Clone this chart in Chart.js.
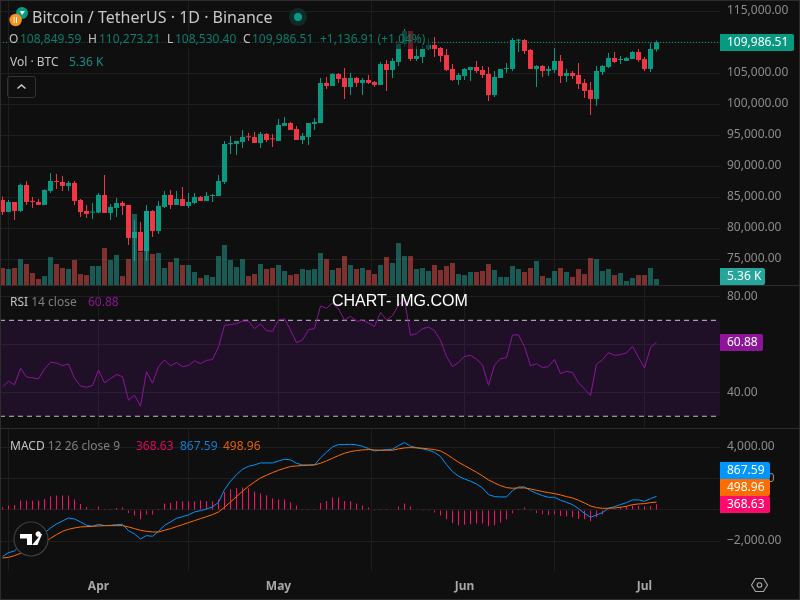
<!DOCTYPE html>
<html>
<head>
<meta charset="utf-8">
<title>BTCUSDT</title>
<script src="https://cdn.jsdelivr.net/npm/chart.js@4"></script>
<style>
html, body { margin: 0; padding: 0; background: #0f0f0f; }
#wrap { position: relative; width: 800px; height: 600px; overflow: hidden; background: #0f0f0f; font-family: "Noto Sans", sans-serif; font-size: 12px; color: #c4c4c4; }
#wrap canvas { position: absolute; left: 0; }
#c1 { top: 0; }
#c2 { top: 286px; }
#c3 { top: 429px; }
.t { position: absolute; white-space: nowrap; line-height: 16px; }
.dim { color: #7f7f7f; }
.ohlc { color: #0a7f6c; }
.line { position: absolute; left: 0; width: 800px; height: 1px; background: #2c2c2c; }
</style>
</head>
<body>
<div id="wrap">
  <canvas id="c1" width="800" height="285"></canvas>
  <canvas id="c2" width="800" height="142"></canvas>
  <canvas id="c3" width="800" height="171"></canvas>

  <div class="line" style="top:285px"></div>
  <div class="line" style="top:428px"></div>
  <div style="position:absolute;left:0;top:0;width:798px;height:598px;border:1px solid #2c2c2c"></div>

  <svg style="position:absolute;left:8px;top:6px" width="24" height="24">
    <circle cx="14" cy="7" r="6" fill="#089981"/>
    <circle cx="7.6" cy="14" r="6.2" fill="#f7931a"/>
    <rect x="5.6" y="11" width="1" height="6" fill="#fff"/><rect x="8" y="11" width="1" height="6" fill="#fff"/>
    <path d="M12 5h5l-3 4z" fill="#fff"/>
  </svg>
  <div class="t" style="left:32px;top:6px;font-size:16px;line-height:22px;color:#c8c8c8">Bitcoin / TetherUS · 1D · Binance</div>
  <svg style="position:absolute;left:288px;top:7px" width="20" height="20">
    <circle cx="10" cy="10" r="9" fill="#0f2b28"/><circle cx="10" cy="10" r="4" fill="#089981"/>
  </svg>

  <div style="position:absolute;left:9px;top:31px;width:421px;height:18px;background:rgba(15,15,15,.62)"></div>
  <div class="t" style="left:9px;top:31px">O</div>
  <div class="t ohlc" style="left:20px;top:31px">108,849.59</div>
  <div class="t" style="left:88px;top:31px">H</div>
  <div class="t ohlc" style="left:99px;top:31px">110,273.21</div>
  <div class="t" style="left:167px;top:31px">L</div>
  <div class="t ohlc" style="left:175px;top:31px">108,530.40</div>
  <div class="t" style="left:243px;top:31px">C</div>
  <div class="t ohlc" style="left:252px;top:31px">109,986.51</div>
  <div class="t ohlc" style="left:320px;top:31px">+1,136.91 (+1.04%)</div>

  <div class="t" style="left:10px;top:54px">Vol · BTC</div>
  <div class="t" style="left:69px;top:54px;color:#1f8a80">5.36 K</div>
  <div style="position:absolute;left:7px;top:76px;width:27px;height:20px;border:1px solid #333;border-radius:3px">
    <svg width="27" height="20"><path d="M9.5 11.5l4-3.5 4 3.5" fill="none" stroke="#d0d0d0" stroke-width="1.4"/></svg>
  </div>

  <div class="t" style="left:10px;top:294px">RSI <span class="dim">14 close</span></div>
  <div class="t" style="left:88px;top:294px;color:#8e1599">60.88</div>
  <div class="t" style="left:332px;top:292px;font-family:'Liberation Sans',sans-serif;font-size:16px;line-height:18px;color:#fff">CHART- IMG.COM</div>

  <div class="t" style="left:10px;top:438px">MACD <span class="dim">12 26 close 9</span></div>
  <div class="t" style="left:136px;top:438px;color:#e0055f">368.63</div>
  <div class="t" style="left:180px;top:438px;color:#0c7fd6">867.59</div>
  <div class="t" style="left:223px;top:438px;color:#e06000">498.96</div>

  <svg style="position:absolute;left:12px;top:520px" width="38" height="38">
    <circle cx="19" cy="19" r="17" fill="#0f0f0f" stroke="#3f3f3f" stroke-width="1.2"/>
    <path d="M8 14h12v11h-5v-6.500h-7z M23.500 14h0a2.700 2.700 0 1 1 0 .1z M29.200 14h0.900l-4.600 11h-5.400z" fill="#fff"/>
  </svg>
  <svg style="position:absolute;left:751px;top:577px" width="17" height="16">
    <path d="M4.500 1.500h8l4 6.500-4 6.500h-8l-4-6.500z" fill="none" stroke="#a8a8a8" stroke-width="1.1"/>
    <circle cx="8.500" cy="8" r="2.300" fill="none" stroke="#a8a8a8" stroke-width="1.1"/>
  </svg>
</div>

<script>
// OHLC, one entry per day starting 16 Mar
const opens = [84572,82637,84250,82798,86991,84411,84250,83766,86023,87583,
  87475,86830,87314,84572,82798,82529,82529,85378,82475,83282,
  84088,83766,78444,79411,76347,82798,79572,83443,85378,83766,
  84733,83604,84088,85056,84411,85217,85217,87475,93550,93604,
  93926,94733,94733,93765,95216,94410,94087,96507,96991,96023,
  94249,94733,96829,96991,103442,102958,104893,104248,102797,104248,
  103442,103926,103603,103119,106506,105538,106829,109732,111828,107312,
  107635,108925,109570,109086,107957,105700,103926,104571,105538,106022,
  105538,104893,101506,104248,105700,105700,110269,110377,108764,105700,
  106183,105377,105538,106990,104571,105054,104732,103442,102313,100861,
  105216,106022,107474,107151,106990,107312,108441,107312,105700,108849.59];
const highs = [85110,84572,84250,87206,87583,85056,84733,86292,88927,88765,
  88443,87636,87636,84733,83766,84088,85701,88604,83927,84895,
  84411,83766,81346,81024,83766,82959,84411,86023,86185,86023,
  86669,85701,85701,85217,85862,85540,88604,94087,94894,94087,
  95862,95378,95539,95539,95378,95216,97636,97958,97152,96507,
  95378,96991,97797,104248,104409,105054,105054,105861,105054,104409,
  104248,104732,103764,106829,107151,107474,110054,112150,111828,109409,
  109409,110699,110860,109248,108925,106506,105054,105861,106022,106990,
  106183,106022,105377,105700,106667,110699,110538,110538,108925,106345,
  106345,106183,109086,107957,105700,105377,106667,104087,103603,106183,
  106345,108280,108441,107796,107635,108603,108925,107635,109893,110273.21];
const lows = [82153,82637,81346,82637,83766,83282,83766,83766,85701,86346,
  86023,86023,83766,81830,81669,81508,82422,82475,81346,81830,
  82153,77315,74734,76347,74734,78605,79089,83282,83121,83766,
  83604,83282,83927,84411,84411,84250,85217,87152,91991,91830,
  92958,94087,93765,92958,93926,93120,94087,96507,95862,94249,
  93604,93442,95862,96991,102474,102958,103442,100861,101506,102797,
  101506,103280,102797,103119,102151,104248,106183,109302,106990,106990,
  106667,108764,107635,106829,105377,103764,103119,103926,103764,105054,
  104248,100539,101184,104248,105054,105377,108441,108119,105700,102797,
  104409,104571,105054,103442,103603,104087,102474,101022,98281,99732,
  104732,105861,106667,106506,106990,107312,106829,105377,105216,108530.40];
const closes = [82637,84250,82798,86991,84250,84250,83766,86185,87636,87475,
  86830,87314,84411,82637,82314,82637,85378,82475,83443,84088,
  83604,78444,79411,76347,82798,79572,83604,85378,83766,84733,
  83604,84250,85056,84411,85217,85378,87636,93604,93765,94087,
  94733,94680,93765,95216,94249,94356,96668,96991,95862,94249,
  94894,96991,97152,103442,102958,104893,104087,102797,104248,103442,
  103926,103442,103119,106506,105538,106990,109732,111828,107312,107796,
  108925,109570,108925,107796,105538,103926,104732,105700,106022,105377,
  104732,101506,104409,105700,105861,110377,110377,108603,105700,106183,
  105377,105700,106990,104571,105054,104571,103280,102151,100861,105377,
  106183,107474,106829,107312,107474,108441,107151,105700,108925,109986.51];

// volume in thousands of BTC
const volumes = [15.2,14.3,15.2,23.2,18.8,10.7,5.4,8.0,25.0,18.8,
  15.2,14.3,22.4,9.8,8.9,17.0,17.0,33.1,22.4,26.8,
  8.0,23.2,63.5,29.5,66.2,27.7,28.6,15.2,20.6,24.1,
  17.9,17.9,11.6,6.3,8.9,7.2,25.9,35.8,22.4,16.1,
  23.2,8.0,9.8,18.8,14.3,15.2,17.9,12.5,8.9,9.8,
  14.3,13.4,14.3,28.6,23.2,13.4,15.2,25.9,17.9,14.3,
  15.2,13.4,9.8,17.9,25.0,19.7,37.5,25.9,25.9,14.3,
  15.2,12.5,17.9,13.4,17.0,19.7,9.8,8.9,11.6,11.6,
  12.5,18.8,13.4,7.2,7.2,17.0,14.3,11.6,15.2,21.5,
  8.0,6.3,12.5,15.2,11.6,7.2,14.3,9.8,24.1,23.2,
  12.5,14.3,8.9,10.7,3.6,6.3,8.9,8.9,15.2,5.36];

const rsi = [42.2,44.6,43.1,50,46.4,46,45.6,49.7,52.5,52.2,
  51.1,51.8,45.8,42.6,42.1,42.8,49.2,43.9,45.7,47.4,
  46.5,36.7,38.8,34.2,48.6,43.8,50.7,53.5,51,52.4,
  50.7,51.2,53.1,51.9,53.3,53.6,58.9,67.9,68.2,68.6,
  69.7,69.7,66.5,68.5,65.7,65.4,70.1,70.6,66,60.7,
  61.8,66.1,66.5,76,75,77.2,74.7,70.1,71.7,69.6,
  70,68.9,67.4,73.3,70.1,71.9,76.4,78.5,63.75,64.4,
  66.5,67.2,65.6,61.7,54.9,50.7,52.5,54.9,55.4,53.75,
  51.4,42.9,51.25,54,54.4,63.9,63.9,59,51,51.9,
  50.3,50.7,53.75,47.8,48.75,48.2,44,41.4,38.6,51.7,
  53.6,56.5,55.4,55.7,56.4,59.2,54.6,50.1,58.6,60.88];

const macd = [-2982,-2726,-2620,-2215,-2002,-1853,-1683,-1470,-1150,-895,
  -703,-511,-575,-767,-980,-1044,-916,-1001,-980,-937,
  -916,-1321,-1534,-1853,-1640,-1683,-1363,-980,-767,-533,
  -426,-320,-128,-43,64,192,490,1299,1832,2258,
  2599,2790,2876,3003,3003,3003,3131,3238,3195,2982,
  2876,2876,2876,3323,3685,4026,4175,4175,4196,4154,
  4068,3919,3770,3813,3855,3877,4111,4303,4068,3983,
  3898,3813,3685,3408,2897,2450,2151,1981,1832,1661,
  1406,980,852,831,831,1235,1470,1470,1235,1065,
  916,809,809,618,490,341,85,-213,-469,-320,
  -170,107,213,341,469,639,639,554,724,867.59];
const signal = [-3067,-3025,-2918,-2769,-2599,-2428,-2237,-2066,-1811,-1576,
  -1363,-1235,-1150,-1086,-1065,-1044,-1022,-1001,-1001,-1001,
  -1001,-1086,-1193,-1299,-1363,-1406,-1406,-1299,-1193,-1065,
  -937,-809,-682,-554,-426,-298,-128,170,511,852,
  1193,1512,1789,2045,2215,2386,2535,2663,2769,2812,
  2833,2854,2876,2982,3131,3302,3472,3621,3728,3791,
  3834,3855,3834,3813,3813,3813,3898,3962,3983,3962,
  3941,3898,3855,3770,3557,3302,3046,2833,2620,2407,
  2173,1917,1725,1555,1427,1385,1406,1406,1342,1257,
  1172,1108,1044,959,852,767,618,447,256,149,
  107,107,128,170,234,341,383,405,469,498.96];
const hist = [170,277,320,596,596,596,596,703,852,916,
  916,916,660,383,192,64,213,64,64,128,
  149,-192,-362,-596,-298,-298,64,405,447,575,
  533,554,554,618,575,554,660,1129,1299,1406,
  1427,1385,1172,1044,937,724,660,660,490,277,
  64,64,64,447,575,788,788,575,554,405,
  277,149,-64,64,64,21,213,405,213,21,
  -64,-64,-170,-362,-596,-852,-980,-937,-916,-873,
  -873,-1044,-980,-809,-596,-213,64,149,-64,-192,
  -277,-320,-277,-383,-426,-469,-575,-596,-724,-469,
  -277,-21,85,192,234,277,277,234,256,368.63];

const monthDays = [16, 46, 77, 107];
const monthNames = ['Apr', 'May', 'Jun', 'Jul'];
const priceTicks = [75000, 80000, 85000, 90000, 95000, 100000, 105000, 110000, 115000];
const rsiTicks = [40, 60, 80];
const macdTicks = [-2000, 0, 2000, 4000];

const GREEN = '#089981', RED = '#f23645';
const VOL_GREEN = 'rgba(38,166,154,.5)', VOL_RED = 'rgba(239,83,80,.5)';
const GRID = '#1e1e1e', TICK = '#8c8c8c';
const FONT = '"Noto Sans", sans-serif';
const days = closes.map((c, i) => i);
const xMin = -2.5 / 6, xMax = 717.5 / 6;

function isUp(i) { return closes[i] >= opens[i]; }
function money(v) { return v.toLocaleString('en-US', { minimumFractionDigits: 2, maximumFractionDigits: 2 }).replace('-', '\u2212'); }
function noPadding(s) { s.paddingTop = s.paddingBottom = s.paddingLeft = s.paddingRight = 0; }

function xScale(showLabels) {
  return {
    type: 'linear', min: xMin, max: xMax, offset: false,
    afterBuildTicks: s => { s.ticks = monthDays.map(d => ({ value: d })); },
    afterFit: s => { s.height = showLabels ? 29 : 0; noPadding(s); },
    grid: { color: GRID, drawTicks: false },
    border: { display: false },
    ticks: {
      display: showLabels, autoSkip: false, maxRotation: 0, padding: 8, color: '#a8a8a8',
      font: { family: FONT, size: 12, weight: 'bold' },
      callback: v => monthNames[monthDays.indexOf(v)]
    }
  };
}
function yScale(min, max, ticks, labelOffset) {
  return {
    position: 'right', min: min, max: max,
    afterBuildTicks: s => { s.ticks = ticks.map(v => ({ value: v })); },
    afterFit: s => { s.width = 80; noPadding(s); },
    grid: { color: GRID, drawTicks: false },
    border: { display: false },
    ticks: {
      autoSkip: false, padding: 7, color: TICK, labelOffset: labelOffset,
      font: { family: FONT, size: 12 }, callback: money
    }
  };
}
// value boxes on the price axis, anchor is the value the box sits on
function badges(items) {
  return {
    id: 'badges',
    afterDraw(chart) {
      const ctx = chart.ctx;
      items.forEach(b => {
        let y = chart.scales[b.axis].getPixelForValue(b.anchor) + (b.up ? -17 * b.up : 0);
        if (b.maxY) y = Math.min(y, b.maxY);
        const top = Math.round(y - 8.5);
        ctx.save();
        ctx.fillStyle = b.bg;
        ctx.beginPath();
        ctx.roundRect(720, top, b.w, 17, [0, 2, 2, 0]);
        ctx.fill();
        ctx.fillStyle = '#fff';
        ctx.font = '12px ' + FONT;
        ctx.textBaseline = 'middle';
        ctx.fillText(b.text, 727, top + 8.5);
        ctx.restore();
      });
    }
  };
}
function base(scales) {
  return {
    responsive: false, animation: false, events: [],
    layout: { padding: 0 },
    plugins: { legend: { display: false }, tooltip: { enabled: false } },
    scales: scales
  };
}
const xEnds = [xMin, xMax];
const lastClose = closes[closes.length - 1];
const lastHist = hist[hist.length - 1];

new Chart(document.getElementById('c1'), {
  type: 'bar',
  plugins: [badges([
    { axis: 'y', anchor: lastClose, text: money(lastClose), bg: GREEN, w: 74 },
    { axis: 'vol', anchor: 5.36, text: '5.36 K', bg: '#26a69a', w: 45, maxY: 276.5 }
  ])],
  data: {
    datasets: [
      { type: 'line', order: -1, yAxisID: 'y', data: xEnds.map(x => ({ x: x, y: lastClose })), borderColor: GREEN, borderWidth: 1, borderDash: [1, 2], pointRadius: 0 },
      { order: 0, yAxisID: 'vol', grouped: false, inflateAmount: 0, barThickness: 5, data: days.map(i => ({ x: i, y: volumes[i] })), backgroundColor: c => isUp(c.dataIndex) ? VOL_GREEN : VOL_RED },
      { order: 1, yAxisID: 'y', grouped: false, inflateAmount: 0, barThickness: 5, minBarLength: 1, data: days.map(i => ({ x: i, y: [opens[i], closes[i]] })), backgroundColor: c => isUp(c.dataIndex) ? GREEN : RED },
      { order: 2, yAxisID: 'y', grouped: false, inflateAmount: 0, barThickness: 1, data: days.map(i => ({ x: i, y: [lows[i], highs[i]] })), backgroundColor: c => isUp(c.dataIndex) ? GREEN : RED }
    ]
  },
  options: base({
    x: xScale(false),
    y: yScale(70855, 116823, priceTicks, -1),
    vol: { display: false, min: 0, max: 254.8 }
  })
});

new Chart(document.getElementById('c2'), {
  type: 'line',
  plugins: [badges([{ axis: 'y', anchor: 60.88, text: '60.88', bg: '#8e1599', w: 43 }])],
  data: {
    datasets: [
      { order: 0, data: days.map(i => ({ x: i, y: rsi[i] })), borderColor: '#8e1599', borderWidth: 1, pointRadius: 0 },
      { order: 1, data: xEnds.map(x => ({ x: x, y: 70 })), borderColor: '#c9c3d0', borderWidth: 1, borderDash: [5, 4], pointRadius: 0, fill: '+1', backgroundColor: 'rgba(140,20,210,.13)' },
      { order: 2, data: xEnds.map(x => ({ x: x, y: 30 })), borderColor: '#c9c3d0', borderWidth: 1, borderDash: [5, 4], pointRadius: 0 }
    ]
  },
  options: base({
    x: xScale(false),
    y: yScale(25.1, 84.3, rsiTicks, 0)
  })
});

new Chart(document.getElementById('c3'), {
  type: 'bar',
  plugins: [badges([
    { axis: 'y', anchor: lastHist, up: 2, text: '867.59', bg: '#0096ff', w: 50 },
    { axis: 'y', anchor: lastHist, up: 1, text: '498.96', bg: '#ff6d00', w: 50 },
    { axis: 'y', anchor: lastHist, text: '368.63', bg: '#ff0a6c', w: 50 }
  ])],
  data: {
    datasets: [
      { type: 'line', order: 0, data: days.map(i => ({ x: i, y: signal[i] })), borderColor: '#ff6d00', borderWidth: 1, pointRadius: 0 },
      { type: 'line', order: 1, data: days.map(i => ({ x: i, y: macd[i] })), borderColor: '#0096ff', borderWidth: 1, pointRadius: 0 },
      { order: 2, grouped: false, inflateAmount: 0, barThickness: 1, data: days.map(i => ({ x: i, y: hist[i] })), backgroundColor: '#ff0a6c' }
    ]
  },
  options: base({
    x: xScale(true),
    y: yScale(-3898, 5169, macdTicks, -0.5)
  })
});
</script>
</body>
</html>
